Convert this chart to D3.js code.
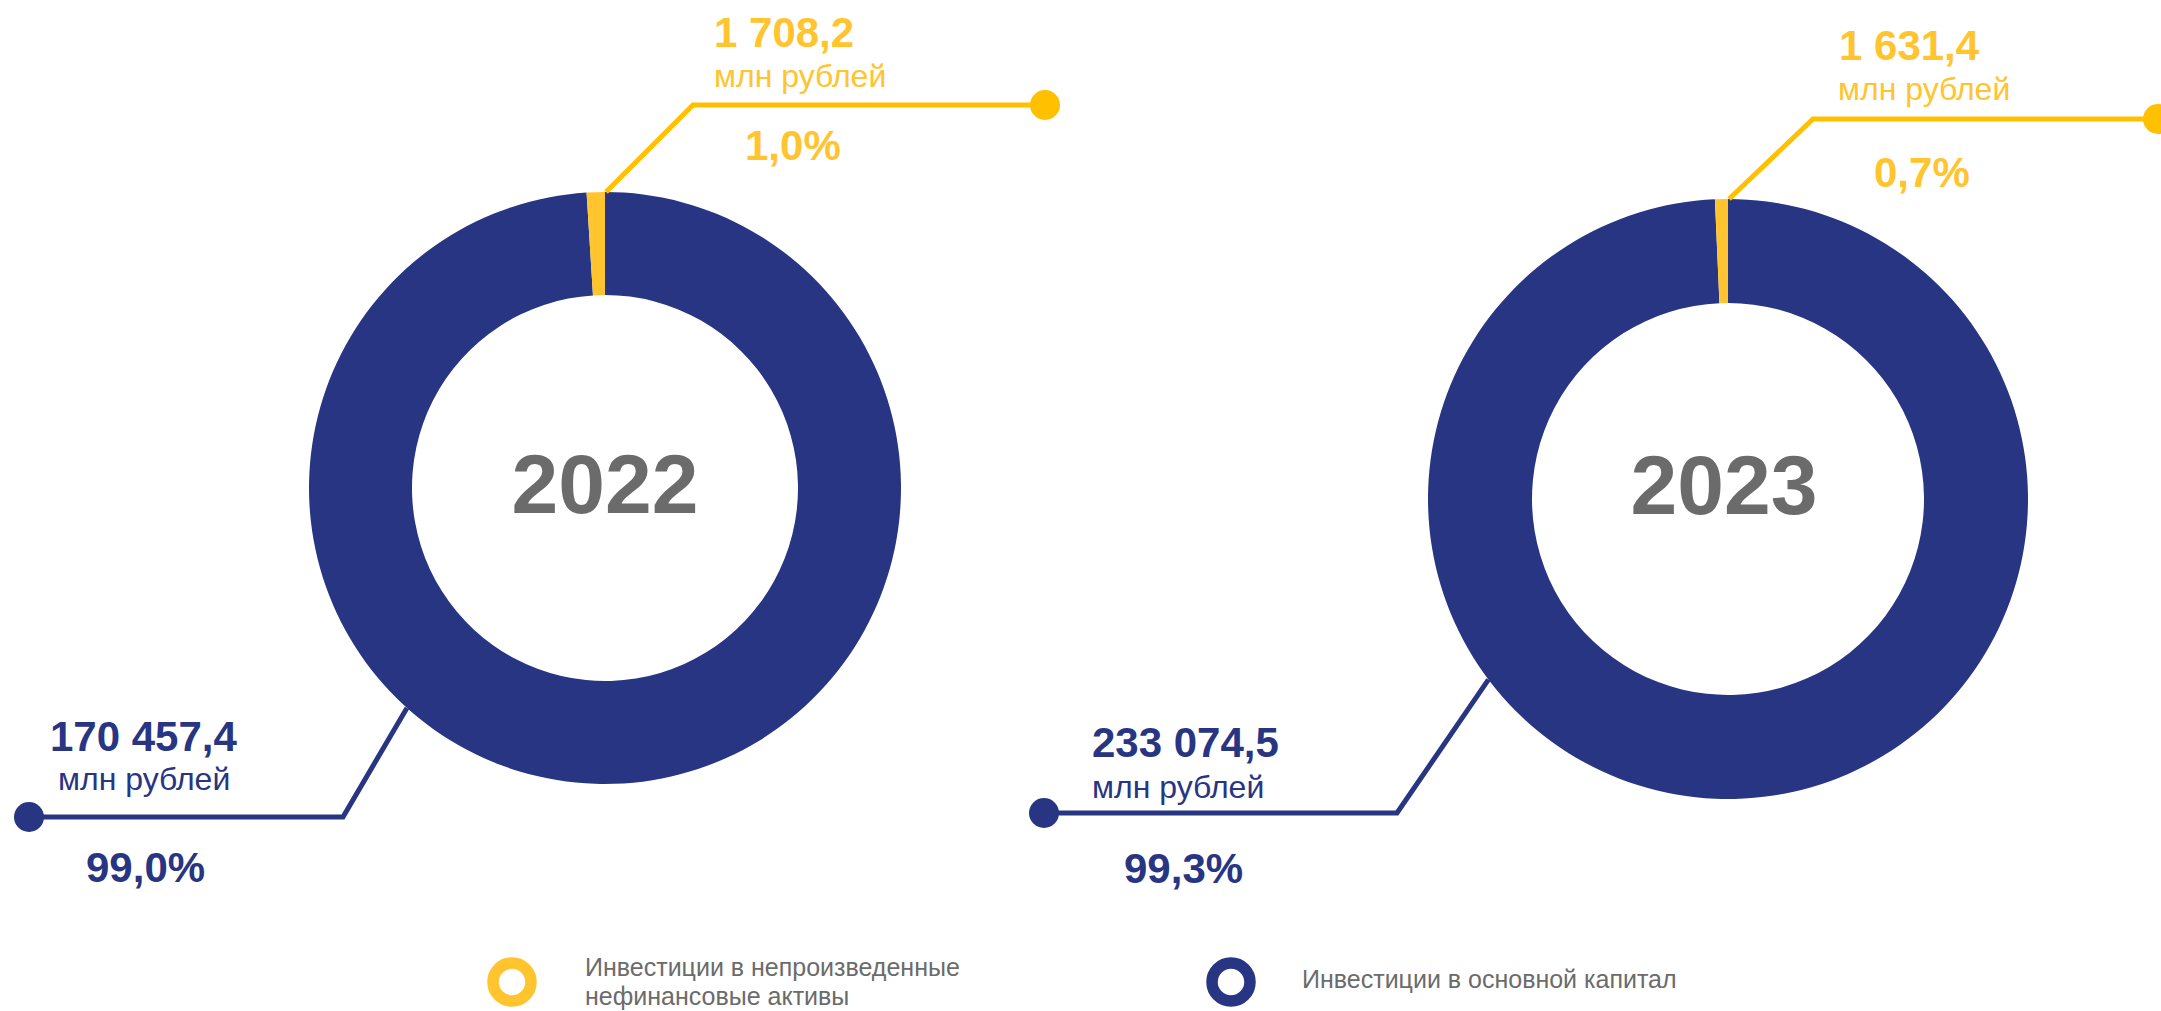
<!DOCTYPE html>
<html><head><meta charset="utf-8">
<script src="https://cdn.jsdelivr.net/npm/d3@7"></script>
<style>html,body{margin:0;padding:0;background:#fff;}svg{display:block;font-family:"Liberation Sans",Arial,sans-serif;}</style>
</head><body>
<svg id="c" width="2161" height="1011"></svg>
<script>
// ---- data ----
const years = ["2022", "2023"];
const seriesNames = ["Инвестиции в основной капитал", "Инвестиции в непроизведенные нефинансовые активы"];
const fixedCapital = [170457.4, 233074.5];   // млн рублей
const nonProduced = [1708.2, 1631.4];         // млн рублей
const unitLabel = "млн рублей";
const legendLines = [["Инвестиции в непроизведенные", "нефинансовые активы"], ["Инвестиции в основной капитал"]];

// ---- styles / layout ----
const NAVY = "#283583", YELLOW = "#FFC42E", LINE_YELLOW = "#FFC000", GRAY = "#6B6B6B";
const colors = [NAVY, YELLOW];
const loc = d3.formatLocale({decimal: ",", thousands: " ", grouping: [3], currency: ["", ""]});
const fmtVal = loc.format(",.1f");
const fmtPct = loc.format(".1%");

const layout = [
  {cx: 605, cy: 488, R: 296, r: 193, yearX: 605, yearBase: 513,
   yellow: {ang: 0.2, elbow: [693, 105], end: [1045, 105], val: [714, 47], unit: [714, 87], pct: [745, 160]},
   navy: {ang: 222, elbow: [343, 817], end: [29, 817], val: [50, 751], unit: [58, 790], pct: [86, 882]}},
  {cx: 1728, cy: 499, R: 300, r: 196, yearX: 1724, yearBase: 514,
   yellow: {ang: 0.2, elbow: [1813, 119], end: [2158, 119], val: [1839, 60], unit: [1838, 100], pct: [1874, 187]},
   navy: {ang: 233, elbow: [1397, 813], end: [1044, 813], val: [1092, 757], unit: [1092, 798], pct: [1124, 883]}}
];

const svg = d3.select("#c");
const pie = d3.pie().sort(null).value(d => d.v).startAngle(0).endAngle(2 * Math.PI);

years.forEach((yr, i) => {
  const L = layout[i];
  const data = [{k: 0, v: fixedCapital[i]}, {k: 1, v: nonProduced[i]}];
  const total = fixedCapital[i] + nonProduced[i];
  const arcs = pie(data);
  const arc = d3.arc().innerRadius(L.r).outerRadius(L.R);
  const g = svg.append("g").attr("transform", `translate(${L.cx},${L.cy})`);
  g.selectAll("path").data(arcs).join("path")
    .attr("d", arc).attr("fill", d => colors[d.data.k]);
  svg.append("text").attr("x", L.yearX).attr("y", L.yearBase)
    .attr("text-anchor", "middle").attr("font-size", 84).attr("font-weight", "bold")
    .attr("fill", GRAY).text(yr);

  // leaders + labels
  [["navy", 0, NAVY, NAVY], ["yellow", 1, LINE_YELLOW, YELLOW]].forEach(([key, k, lineCol, txtCol]) => {
    const s = L[key];
    const a = s.ang * Math.PI / 180;
    const start = [L.cx + L.R * Math.sin(a), L.cy - L.R * Math.cos(a)];
    svg.append("path")
      .attr("d", d3.line()([start, s.elbow, s.end]))
      .attr("fill", "none").attr("stroke", lineCol).attr("stroke-width", 5)
      .attr("stroke-linejoin", "miter");
    svg.append("circle").attr("cx", s.end[0]).attr("cy", s.end[1]).attr("r", 15).attr("fill", lineCol);
    const v = k === 0 ? fixedCapital[i] : nonProduced[i];
    svg.append("text").attr("x", s.val[0]).attr("y", s.val[1])
      .attr("font-size", 42).attr("font-weight", "bold").attr("fill", txtCol).text(fmtVal(v));
    svg.append("text").attr("x", s.unit[0]).attr("y", s.unit[1])
      .attr("font-size", 32).attr("fill", txtCol).text(unitLabel);
    svg.append("text").attr("x", s.pct[0]).attr("y", s.pct[1])
      .attr("font-size", 42).attr("font-weight", "bold").attr("fill", txtCol).text(fmtPct(v / total));
  });
});

// ---- legend ----
const legend = [
  {color: YELLOW, x: 512, lines: legendLines[0], tx: 585, ty: [976, 1005]},
  {color: NAVY, x: 1231, lines: legendLines[1], tx: 1302, ty: [988]}
];
legend.forEach(l => {
  svg.append("circle").attr("cx", l.x).attr("cy", 982).attr("r", 19)
    .attr("fill", "none").attr("stroke", l.color).attr("stroke-width", 11.5);
  l.lines.forEach((t, j) => {
    svg.append("text").attr("x", l.tx).attr("y", l.ty[j]).attr("font-size", 25)
      .attr("fill", GRAY).text(t);
  });
});
</script>
</body></html>
